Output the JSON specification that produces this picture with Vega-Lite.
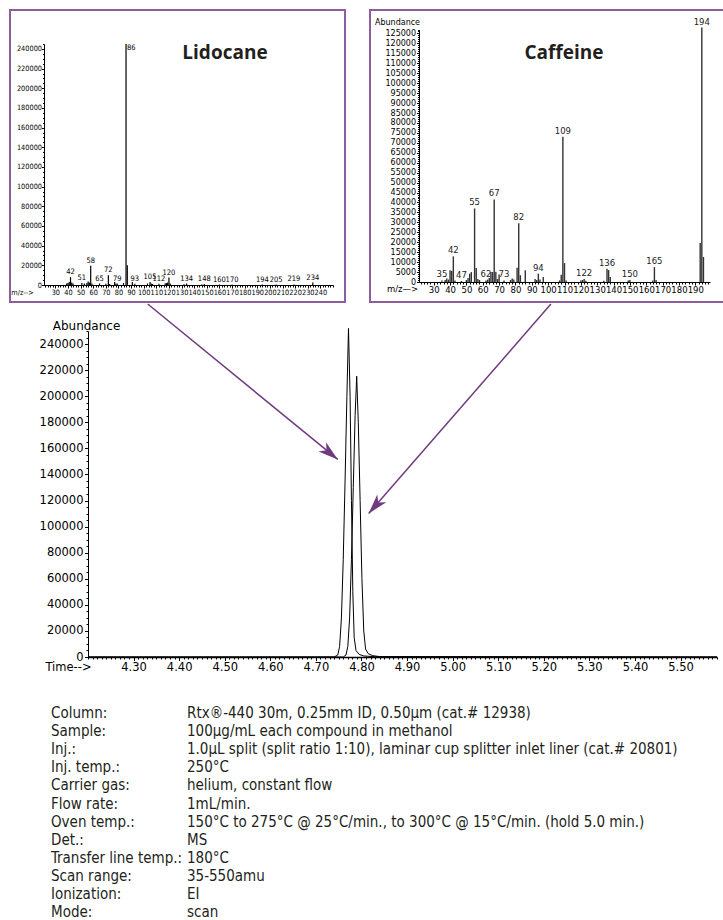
{
  "$schema": "https://vega.github.io/schema/vega-lite/v6.json",
  "background": "white",
  "padding": {"left": 9, "top": 9, "right": 0, "bottom": 0},
  "spacing": 0,
  "config": {
    "view": {"stroke": null},
    "font": "DejaVu Sans",
    "axis": {"grid": false, "domainColor": "black", "tickColor": "black", "labelColor": "black", "titleColor": "black", "titleFontWeight": "normal", "labelOverlap": false, "labelFlush": false}
  },
  "datasets": {
    "lido": [
      {"mz": 39, "ab": 1500}, {"mz": 40, "ab": 2000}, {"mz": 41, "ab": 3000},
      {"mz": 42, "ab": 8000, "label": "42"}, {"mz": 43, "ab": 2500}, {"mz": 44, "ab": 1500},
      {"mz": 51, "ab": 2000, "label": "51"}, {"mz": 53, "ab": 1500}, {"mz": 55, "ab": 2000},
      {"mz": 56, "ab": 3500}, {"mz": 57, "ab": 2500}, {"mz": 58, "ab": 19500, "label": "58"},
      {"mz": 59, "ab": 1500}, {"mz": 65, "ab": 1500, "label": "65"}, {"mz": 70, "ab": 1200},
      {"mz": 72, "ab": 10000, "label": "72"}, {"mz": 73, "ab": 1000}, {"mz": 77, "ab": 3000},
      {"mz": 78, "ab": 1200}, {"mz": 79, "ab": 1500, "label": "79"}, {"mz": 84, "ab": 2000},
      {"mz": 86, "ab": 245000, "label": "86"}, {"mz": 87, "ab": 20000}, {"mz": 91, "ab": 3000},
      {"mz": 93, "ab": 1200, "label": "93"}, {"mz": 103, "ab": 1500}, {"mz": 105, "ab": 3000, "label": "105"},
      {"mz": 106, "ab": 1500}, {"mz": 107, "ab": 1000}, {"mz": 112, "ab": 1200, "label": "112"},
      {"mz": 117, "ab": 1500}, {"mz": 118, "ab": 2000}, {"mz": 119, "ab": 2500},
      {"mz": 120, "ab": 7500, "label": "120"}, {"mz": 121, "ab": 1500}, {"mz": 132, "ab": 800},
      {"mz": 134, "ab": 1500, "label": "134"}, {"mz": 146, "ab": 600}, {"mz": 148, "ab": 1000, "label": "148"},
      {"mz": 160, "ab": 500, "label": "160"}, {"mz": 170, "ab": 500, "label": "170"},
      {"mz": 194, "ab": 500, "label": "194"}, {"mz": 205, "ab": 500, "label": "205"},
      {"mz": 219, "ab": 600, "label": "219"}, {"mz": 234, "ab": 2500, "label": "234"}
    ],
    "caff": [
      {"mz": 35, "ab": 800, "label": "35"}, {"mz": 37, "ab": 1000}, {"mz": 38, "ab": 1800},
      {"mz": 39, "ab": 1200}, {"mz": 40, "ab": 5900}, {"mz": 41, "ab": 5600},
      {"mz": 42, "ab": 12900, "label": "42"}, {"mz": 43, "ab": 800}, {"mz": 47, "ab": 500, "label": "47"},
      {"mz": 50, "ab": 1000}, {"mz": 51, "ab": 2000}, {"mz": 52, "ab": 4200}, {"mz": 53, "ab": 5000},
      {"mz": 55, "ab": 37000, "label": "55"}, {"mz": 56, "ab": 7000}, {"mz": 57, "ab": 1500},
      {"mz": 58, "ab": 1000}, {"mz": 62, "ab": 800, "label": "62"}, {"mz": 63, "ab": 1200},
      {"mz": 64, "ab": 2000}, {"mz": 65, "ab": 5000}, {"mz": 66, "ab": 5000},
      {"mz": 67, "ab": 41500, "label": "67"}, {"mz": 68, "ab": 5200}, {"mz": 69, "ab": 1500},
      {"mz": 70, "ab": 3800}, {"mz": 73, "ab": 800, "label": "73"}, {"mz": 77, "ab": 1000},
      {"mz": 78, "ab": 1800}, {"mz": 79, "ab": 1200}, {"mz": 81, "ab": 7200},
      {"mz": 82, "ab": 29500, "label": "82"}, {"mz": 83, "ab": 3400}, {"mz": 86, "ab": 5900},
      {"mz": 92, "ab": 1500}, {"mz": 93, "ab": 1000}, {"mz": 94, "ab": 4200, "label": "94"},
      {"mz": 95, "ab": 1200}, {"mz": 97, "ab": 2500}, {"mz": 107, "ab": 800}, {"mz": 108, "ab": 3700},
      {"mz": 109, "ab": 73000, "label": "109"}, {"mz": 110, "ab": 9500}, {"mz": 111, "ab": 800},
      {"mz": 120, "ab": 800}, {"mz": 121, "ab": 1000}, {"mz": 122, "ab": 1500, "label": "122"},
      {"mz": 123, "ab": 600}, {"mz": 134, "ab": 600}, {"mz": 136, "ab": 6700, "label": "136"},
      {"mz": 137, "ab": 6000}, {"mz": 138, "ab": 2500}, {"mz": 149, "ab": 800},
      {"mz": 150, "ab": 1000, "label": "150"}, {"mz": 164, "ab": 800}, {"mz": 165, "ab": 7500, "label": "165"},
      {"mz": 166, "ab": 1000}, {"mz": 193, "ab": 19600}, {"mz": 194, "ab": 128000, "label": "194"},
      {"mz": 195, "ab": 12600}
    ],
    "chrom": [
      {"compound": "Lidocane", "t": 4.2, "ab": 0}, {"compound": "Lidocane", "t": 4.74, "ab": 0},
      {"compound": "Lidocane", "t": 4.748, "ab": 1500}, {"compound": "Lidocane", "t": 4.752, "ab": 8000},
      {"compound": "Lidocane", "t": 4.756, "ab": 30000}, {"compound": "Lidocane", "t": 4.76, "ab": 75000},
      {"compound": "Lidocane", "t": 4.764, "ab": 135000}, {"compound": "Lidocane", "t": 4.768, "ab": 200000},
      {"compound": "Lidocane", "t": 4.7715, "ab": 252000}, {"compound": "Lidocane", "t": 4.775, "ab": 200000},
      {"compound": "Lidocane", "t": 4.778, "ab": 120000}, {"compound": "Lidocane", "t": 4.781, "ab": 50000},
      {"compound": "Lidocane", "t": 4.784, "ab": 15000}, {"compound": "Lidocane", "t": 4.788, "ab": 5000},
      {"compound": "Lidocane", "t": 4.795, "ab": 2000}, {"compound": "Lidocane", "t": 4.805, "ab": 800},
      {"compound": "Lidocane", "t": 4.83, "ab": 200}, {"compound": "Lidocane", "t": 5.58, "ab": 0},
      {"compound": "Caffeine", "t": 4.2, "ab": 0}, {"compound": "Caffeine", "t": 4.76, "ab": 0},
      {"compound": "Caffeine", "t": 4.766, "ab": 1500}, {"compound": "Caffeine", "t": 4.77, "ab": 8000},
      {"compound": "Caffeine", "t": 4.774, "ab": 30000}, {"compound": "Caffeine", "t": 4.778, "ab": 75000},
      {"compound": "Caffeine", "t": 4.782, "ab": 130000}, {"compound": "Caffeine", "t": 4.786, "ab": 185000},
      {"compound": "Caffeine", "t": 4.7895, "ab": 215300}, {"compound": "Caffeine", "t": 4.793, "ab": 180000},
      {"compound": "Caffeine", "t": 4.797, "ab": 120000}, {"compound": "Caffeine", "t": 4.801, "ab": 60000},
      {"compound": "Caffeine", "t": 4.805, "ab": 20000}, {"compound": "Caffeine", "t": 4.809, "ab": 6000},
      {"compound": "Caffeine", "t": 4.815, "ab": 2500}, {"compound": "Caffeine", "t": 4.825, "ab": 1000},
      {"compound": "Caffeine", "t": 4.84, "ab": 300}, {"compound": "Caffeine", "t": 5.58, "ab": 0}
    ],
    "arrows": [
      {"compound": "Lidocane", "t0": 4.331, "a0": 270700, "t1": 4.748, "a1": 151500},
      {"compound": "Caffeine", "t0": 5.2156, "a0": 270700, "t1": 4.8158, "a1": 110100}
    ],
    "titles": [
      {"name": "Lidocane", "mz": 164.4, "ab": 235800},
      {"name": "Caffeine", "mz": 109.7, "ab": 115200}
    ],
    "conditions": [
      {"param": "Column:", "value": "Rtx®-440 30m, 0.25mm ID, 0.50µm (cat.# 12938)"},
      {"param": "Sample:", "value": "100µg/mL each compound in methanol"},
      {"param": "Inj.:", "value": "1.0µL split (split ratio 1:10), laminar cup splitter inlet liner (cat.# 20801)"},
      {"param": "Inj. temp.:", "value": "250°C"},
      {"param": "Carrier gas:", "value": "helium, constant flow"},
      {"param": "Flow rate:", "value": "1mL/min."},
      {"param": "Oven temp.:", "value": "150°C to 275°C @ 25°C/min., to 300°C @ 15°C/min. (hold 5.0 min.)"},
      {"param": "Det.:", "value": "MS"},
      {"param": "Transfer line temp.:", "value": "180°C"},
      {"param": "Scan range:", "value": "35-550amu"},
      {"param": "Ionization:", "value": "EI"},
      {"param": "Mode:", "value": "scan"}
    ]
  },
  "vconcat": [
    {
      "hconcat": [
        {
          "width": 335, "height": 292,
          "view": {"stroke": "#8c5f9c", "strokeWidth": 2},
          "resolve": {"axis": {"x": "independent", "y": "independent"}},
          "layer": [
            {
              "data": {"name": "lido"},
              "mark": {"type": "rule", "color": "black", "strokeWidth": 1.2},
              "encoding": {
                "x": {"field": "mz", "type": "quantitative",
                  "scale": {"domain": [21, 250], "range": [34, 323], "nice": false, "zero": false},
                  "axis": {"orient": "bottom", "offset": -17, "values": [30,40,50,60,70,80,90,100,110,120,130,140,150,160,170,180,190,200,210,220,230,240],
                    "labelOverlap": false, "labelFont": "DejaVu Sans Condensed", "labelFontSize": 7.3, "tickSize": 3, "labelPadding": 0,
                    "title": "m/z-->", "titleFont": "DejaVu Sans Condensed", "titleFontSize": 7.3, "titleX": 12, "titleY": 3, "titleBaseline": "top", "titleAlign": "center"}},
                "y": {"field": "ab", "type": "quantitative",
                  "scale": {"domain": [0, 245000], "range": [275, 34], "nice": false},
                  "axis": {"orient": "left", "offset": -34, "values": [0,20000,40000,60000,80000,100000,120000,140000,160000,180000,200000,220000,240000],
                    "labelOverlap": false, "format": "d", "labelFont": "DejaVu Sans Condensed", "labelFontSize": 7.3, "tickSize": 2.5, "labelPadding": 0, "title": null}},
                "y2": {"datum": 0}
              }
            },
            {
              "data": {"name": "lido"},
              "transform": [{"filter": "isValid(datum.label) && datum.mz != 86"}],
              "mark": {"type": "text", "font": "DejaVu Sans Condensed", "fontSize": 7.5, "baseline": "bottom", "dy": -1, "color": "black"},
              "encoding": {
                "x": {"field": "mz", "type": "quantitative", "axis": {"orient": "bottom", "offset": -17, "tickCount": 115, "labels": false, "domain": false, "tickSize": 2, "title": null}},
                "y": {"field": "ab", "type": "quantitative", "axis": {"orient": "left", "offset": -34, "tickCount": 60, "labels": false, "domain": false, "tickSize": 1.5, "title": null}},
                "text": {"field": "label"}
              }
            },
            {
              "data": {"name": "lido"},
              "transform": [{"filter": "datum.mz == 86"}],
              "mark": {"type": "text", "font": "DejaVu Sans Condensed", "fontSize": 7.5, "baseline": "top", "align": "left", "dx": 1, "color": "black"},
              "encoding": {"x": {"field": "mz", "type": "quantitative", "axis": null}, "y": {"field": "ab", "type": "quantitative", "axis": null}, "text": {"field": "label"}}
            },
            {
              "data": {"name": "titles"},
              "transform": [{"filter": "datum.name == 'Lidocane'"}],
              "mark": {"type": "text", "font": "Open Sans", "fontWeight": "bold", "fontSize": 19, "color": "#231f20"},
              "encoding": {"x": {"field": "mz", "type": "quantitative", "axis": null}, "y": {"field": "ab", "type": "quantitative", "axis": null}, "text": {"field": "name"}}
            }
          ]
        },
        {
          "width": 354, "height": 292,
          "view": {"stroke": "#8c5f9c", "strokeWidth": 2},
          "resolve": {"axis": {"x": "independent", "y": "independent"}},
          "layer": [
            {
              "data": {"name": "caff"},
              "mark": {"type": "rule", "color": "#333333", "strokeWidth": 1.4},
              "encoding": {
                "x": {"field": "mz", "type": "quantitative",
                  "scale": {"domain": [21, 199], "range": [49, 340], "nice": false, "zero": false},
                  "axis": {"orient": "bottom", "offset": -20, "values": [30,40,50,60,70,80,90,100,110,120,130,140,150,160,170,180,190],
                    "labelOverlap": false, "labelFontSize": 8.5, "tickSize": 3, "labelPadding": 0,
                    "title": "m/z—>", "titleFontSize": 8.5, "titleX": 32, "titleY": 2.5, "titleBaseline": "top", "titleAlign": "center"}},
                "y": {"field": "ab", "type": "quantitative",
                  "scale": {"domain": [0, 127000], "range": [272, 19.5], "nice": false},
                  "axis": {"orient": "left", "offset": -49, "values": [0,5000,10000,15000,20000,25000,30000,35000,40000,45000,50000,55000,60000,65000,70000,75000,80000,85000,90000,95000,100000,105000,110000,115000,120000,125000],
                    "labelOverlap": false, "format": "d", "labelFontSize": 8, "tickSize": 2.5, "labelPadding": 1,
                    "title": "Abundance", "titleFontSize": 8, "titleAngle": 0, "titleX": -22, "titleY": 12, "titleAlign": "center", "titleBaseline": "middle"}},
                "y2": {"datum": 0}
              }
            },
            {
              "data": {"name": "caff"},
              "transform": [{"filter": "isValid(datum.label)"}],
              "mark": {"type": "text", "fontSize": 8.5, "baseline": "bottom", "dy": -1, "color": "#222222"},
              "encoding": {
                "x": {"field": "mz", "type": "quantitative", "axis": {"orient": "bottom", "offset": -20, "tickCount": 90, "labels": false, "domain": false, "tickSize": 2, "title": null}},
                "y": {"field": "ab", "type": "quantitative", "axis": {"orient": "left", "offset": -49, "tickCount": 127, "labels": false, "domain": false, "tickSize": 1.5, "title": null}},
                "text": {"field": "label"}
              }
            },
            {
              "data": {"name": "titles"},
              "transform": [{"filter": "datum.name == 'Caffeine'"}],
              "mark": {"type": "text", "font": "Open Sans", "fontWeight": "bold", "fontSize": 19, "color": "#231f20"},
              "encoding": {"x": {"field": "mz", "type": "quantitative", "axis": null}, "y": {"field": "ab", "type": "quantitative", "axis": null}, "text": {"field": "name"}}
            }
          ]
        }
      ],
      "spacing": 23
    },
    {
      "width": 712, "height": 400.4,
      "resolve": {"axis": {"x": "independent", "y": "independent"}},
      "layer": [
        {
          "data": {"name": "chrom"},
          "mark": {"type": "line", "color": "black", "strokeWidth": 1},
          "encoding": {
            "x": {"field": "t", "type": "quantitative",
              "scale": {"domain": [4.2, 5.58], "range": [78, 707], "nice": false, "zero": false},
              "axis": {"orient": "bottom", "offset": -46.4, "values": [4.3,4.4,4.5,4.6,4.7,4.8,4.9,5.0,5.1,5.2,5.3,5.4,5.5],
                "labelOverlap": false, "format": ".2f", "labelFontSize": 11.5, "tickSize": 3.5, "labelPadding": 0.5, "domainWidth": 1.5,
                "title": "Time-->", "titleFontSize": 11.5, "titleX": 58, "titleY": 4, "titleBaseline": "top", "titleAlign": "center"}},
            "y": {"field": "ab", "type": "quantitative",
              "scale": {"domain": [0, 250000], "range": [354, 28], "nice": false},
              "axis": {"orient": "left", "offset": -78, "values": [0,20000,40000,60000,80000,100000,120000,140000,160000,180000,200000,220000,240000],
                "labelOverlap": false, "format": "d", "labelFontSize": 11.5, "tickSize": 3.5, "labelPadding": 1.5,
                "title": "Abundance", "titleFontSize": 12, "titleAngle": 0, "titleX": -2, "titleY": 22, "titleAlign": "center", "titleBaseline": "middle"}},
            "detail": {"field": "compound"}
          }
        },
        {
          "data": {"name": "arrows"},
          "mark": {"type": "rule", "color": "#6f3a7e", "strokeWidth": 1.5},
          "encoding": {
            "x": {"field": "t0", "type": "quantitative", "axis": {"orient": "bottom", "offset": -46.4, "tickCount": 138, "labels": false, "domain": false, "tickSize": 2, "title": null}},
            "y": {"field": "a0", "type": "quantitative", "axis": {"orient": "left", "offset": -78, "tickCount": 60, "labels": false, "domain": false, "tickSize": 2, "title": null}},
            "x2": {"field": "t1"}, "y2": {"field": "a1"}
          }
        },
        {
          "data": {"name": "arrows"},
          "transform": [{"filter": "datum.compound == 'Lidocane'"}],
          "mark": {"type": "point", "shape": "M0,0L0.6,2L0,1.45L-0.6,2Z", "filled": true, "opacity": 1, "color": "#6f3a7e", "size": 400, "angle": 129.2, "strokeWidth": 0},
          "encoding": {"x": {"field": "t1", "type": "quantitative", "axis": null}, "y": {"field": "a1", "type": "quantitative", "axis": null}}
        },
        {
          "data": {"name": "arrows"},
          "transform": [{"filter": "datum.compound == 'Caffeine'"}],
          "mark": {"type": "point", "shape": "M0,0L0.6,2L0,1.45L-0.6,2Z", "filled": true, "opacity": 1, "color": "#6f3a7e", "size": 400, "angle": 221, "strokeWidth": 0},
          "encoding": {"x": {"field": "t1", "type": "quantitative", "axis": null}, "y": {"field": "a1", "type": "quantitative", "axis": null}}
        }
      ]
    },
    {
      "width": 712, "height": 217.2,
      "data": {"name": "conditions"},
      "layer": [
        {
          "mark": {"type": "text", "font": "DejaVu Sans Condensed", "fontSize": 15, "align": "left", "baseline": "middle", "color": "#231f20"},
          "encoding": {
            "x": {"datum": 0, "type": "quantitative", "scale": {"domain": [0, 1], "range": [41, 177]}, "axis": null},
            "y": {"field": "param", "type": "ordinal", "sort": null, "scale": {"type": "point", "padding": 0.5}, "axis": null},
            "text": {"field": "param"}
          }
        },
        {
          "mark": {"type": "text", "font": "DejaVu Sans Condensed", "fontSize": 15, "align": "left", "baseline": "middle", "color": "#231f20"},
          "encoding": {
            "x": {"datum": 1, "type": "quantitative"},
            "y": {"field": "param", "type": "ordinal", "sort": null},
            "text": {"field": "value"}
          }
        }
      ]
    }
  ]
}
